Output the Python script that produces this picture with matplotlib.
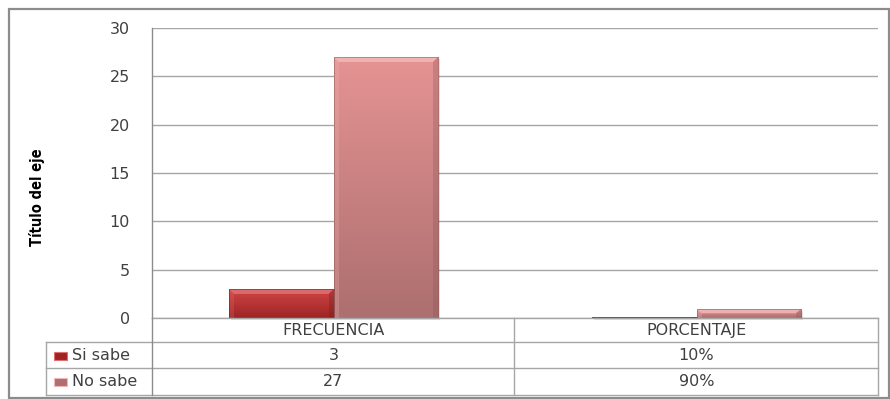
import matplotlib
matplotlib.use("Agg")
import matplotlib.pyplot as plt
import numpy as np
from matplotlib.colors import LinearSegmentedColormap
from matplotlib.patches import Rectangle, Polygon
from matplotlib.lines import Line2D
from matplotlib.transforms import blended_transform_factory

categories = ["FRECUENCIA", "PORCENTAJE"]
series_names = ["Si sabe", "No sabe"]
si_sabe = [3, 0.10]
no_sabe = [27, 0.90]
table_si = ["3", "10%"]
table_no = ["27", "90%"]
y_ticks = [0, 5, 10, 15, 20, 25, 30]
y_title = "Título del eje"

W, H = 890, 399
fig = plt.figure(figsize=(W / 100, H / 100), dpi=100)

def fx(px):
    return px / W

def fy(py):
    return 1 - py / H

FONT = "DejaVu Sans"
TXT = "#404040"

# outer chart frame
fig.add_artist(Rectangle((fx(9), fy(398)), fx(880), fy(9) - fy(398), transform=fig.transFigure,
                         fill=False, edgecolor="#8c8c8c", linewidth=1.6))

left, right, top, base = 152, 878, 28, 318
ax = fig.add_axes([fx(left), fy(base), fx(right - left), fy(top) - fy(base)])
ax.set_xlim(-0.5, 1.5)
ax.set_ylim(0, 30)
ax.set_yticks(y_ticks)
ax.set_yticklabels([str(t) for t in y_ticks], fontsize=11.5, color=TXT, family=FONT)
ax.tick_params(axis="y", length=0, pad=16)
ax.set_xticks([])
for s in ["top", "right", "bottom"]:
    ax.spines[s].set_visible(False)
ax.spines["left"].set_color("#8c8c8c")
ax.spines["left"].set_linewidth(1.0)
ax.yaxis.grid(True, color="#a6a6a6", linewidth=1.0)
ax.set_axisbelow(True)

fig.text(fx(37), fy(197), y_title, rotation=90, ha="center", va="center", fontsize=10.5,
         fontweight="bold", fontstretch="condensed", family=FONT, color="#000000")

palettes = {
    "Si sabe": ("#cf4646", "#9e2424", "#e07070", "#6e1a1a"),
    "No sabe": ("#e59393", "#ad6f6f", "#f2b8b8", "#8a5555"),
}

bar_w = 0.288
fig.canvas.draw()
px_x = (ax.transData.transform((1, 0))[0] - ax.transData.transform((0, 0))[0])
px_y = (ax.transData.transform((0, 1))[1] - ax.transData.transform((0, 0))[1])

def bevel_bar(x0, h, name):
    top_c, bot_c, hi_c, dk_c = palettes[name]
    cmap = LinearSegmentedColormap.from_list(name, [bot_c, top_c])
    grad = np.linspace(0, 1, 64).reshape(-1, 1)
    # soft shadow
    ax.add_patch(Rectangle((x0 + 2 / px_x, -2 / px_y), bar_w, h, facecolor="#000000",
                           alpha=0.12, edgecolor="none", zorder=2, clip_on=False))
    ax.imshow(grad, extent=(x0, x0 + bar_w, 0, h), origin="lower", cmap=cmap,
              aspect="auto", zorder=3, interpolation="bilinear")
    bx = 5 / px_x
    by = min(5 / px_y, h * 0.45)
    x1 = x0 + bar_w
    ax.add_patch(Polygon([(x0, h), (x1, h), (x1 - bx, h - by), (x0 + bx, h - by)],
                         closed=True, facecolor=hi_c, edgecolor="none", zorder=4, alpha=0.85))
    ax.add_patch(Polygon([(x1, h), (x1, 0), (x1 - bx, 0), (x1 - bx, h - by)],
                         closed=True, facecolor=dk_c, edgecolor="none", zorder=4, alpha=0.3))
    ax.add_patch(Polygon([(x0, h), (x0, 0), (x0 + bx, 0), (x0 + bx, h - by)],
                         closed=True, facecolor=hi_c, edgecolor="none", zorder=4, alpha=0.25))
    ax.add_patch(Rectangle((x0, 0), bar_w, h, fill=False, edgecolor=dk_c, linewidth=0.6,
                           zorder=5, alpha=0.6))

for i, cat in enumerate(categories):
    bevel_bar(i - bar_w, si_sabe[i], "Si sabe")
    bevel_bar(i, no_sabe[i], "No sabe")

ax.set_xlim(-0.5, 1.5)
ax.set_ylim(0, 30)

# data table beneath the plot
line_kw = dict(color="#a6a6a6", linewidth=1.0, transform=fig.transFigure)
rows = [318, 342, 368, 395]
fig.add_artist(Line2D([fx(left), fx(right)], [fy(318), fy(318)], **line_kw))
for r in rows[1:]:
    fig.add_artist(Line2D([fx(46), fx(right)], [fy(r), fy(r)], **line_kw))
fig.add_artist(Line2D([fx(46), fx(46)], [fy(342), fy(395)], **line_kw))
fig.add_artist(Line2D([fx(left), fx(left)], [fy(318), fy(395)], color="#8c8c8c", linewidth=1.0,
                      transform=fig.transFigure))
fig.add_artist(Line2D([fx(514), fx(514)], [fy(318), fy(395)], **line_kw))
fig.add_artist(Line2D([fx(right), fx(right)], [fy(318), fy(395)], **line_kw))

tr = blended_transform_factory(ax.transData, fig.transFigure)
txt_kw = dict(fontsize=11.5, color=TXT, family=FONT, ha="center", va="center")
for i, cat in enumerate(categories):
    fig.text(i, fy(330.5), cat, transform=tr, **txt_kw)
    fig.text(i, fy(355), table_si[i], transform=tr, **txt_kw)
    fig.text(i, fy(381.5), table_no[i], transform=tr, **txt_kw)

for name, yc in zip(series_names, [355.5, 382]):
    top_c, bot_c, hi_c, dk_c = palettes[name]
    fig.add_artist(Rectangle((fx(54), fy(yc + 4)), fx(13), fy(yc - 4) - fy(yc + 4),
                             transform=fig.transFigure, facecolor=bot_c, edgecolor=hi_c,
                             linewidth=0.8))
    fig.text(fx(72), fy(yc - 0.5), name, fontsize=11.5, color=TXT, family=FONT,
             ha="left", va="center")

fig.savefig("out.png", dpi=100)
